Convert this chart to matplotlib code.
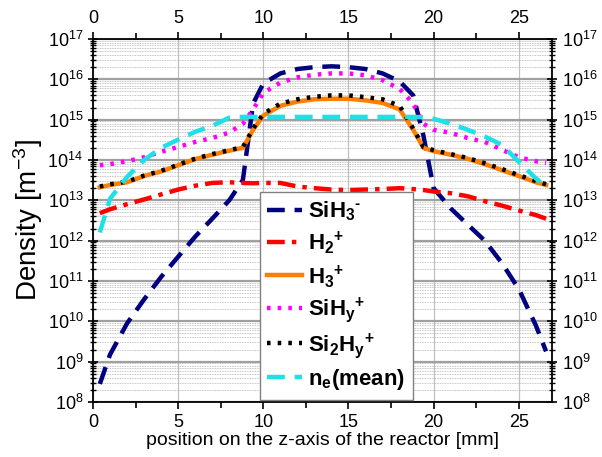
import matplotlib
matplotlib.use("Agg")
import matplotlib.pyplot as plt
from matplotlib.ticker import LogLocator, MultipleLocator, NullFormatter

plt.rcParams["font.family"] = ["Liberation Sans", "DejaVu Sans"]
plt.rcParams["mathtext.fontset"] = "custom"
plt.rcParams["mathtext.rm"] = "Liberation Sans"
plt.rcParams["mathtext.it"] = "Liberation Sans:italic"
plt.rcParams["mathtext.bf"] = "Liberation Sans:bold"

# position along the reactor axis [mm]
z_mm = [0.4, 1, 2, 3, 4, 5, 6, 7, 8, 8.8, 9.4, 10, 11, 12, 13, 14, 15,
        16, 17, 18, 18.8, 19.4, 20, 21, 22, 23, 24, 25, 26, 26.6]

# densities [m^-3]
sih3_minus = [2.8e8, 1.5e9, 8.9e9, 3.5e10, 1.26e11, 4e11, 1.26e12, 3.5e12,
              1e13, 3.2e13, 2.5e15, 7.9e15, 1.4e16, 1.8e16, 2e16, 2.1e16,
              2e16, 1.8e16, 1.4e16, 8.9e15, 4e15, 4e14, 2e13, 6.3e12,
              2.5e12, 1e12, 2.8e11, 6.3e10, 7.9e9, 1.8e9]
h2_plus = [4.8e12, 6e12, 8e12, 1.05e13, 1.4e13, 1.85e13, 2.3e13, 2.7e13,
           2.8e13, 2.7e13, 2.65e13, 2.7e13, 2.7e13, 2.2e13, 2e13, 1.85e13,
           1.8e13, 1.85e13, 1.9e13, 2e13, 1.9e13, 1.8e13, 1.65e13, 1.5e13,
           1.26e13, 9.5e12, 7.4e12, 5.6e12, 4.3e12, 3.5e12]
h3_plus = [2.1e13, 2.4e13, 2.8e13, 4e13, 5.2e13, 7.4e13, 1.05e14, 1.35e14,
           1.7e14, 2e14, 5.6e14, 1.26e15, 2.2e15, 2.8e15, 3.2e15, 3.3e15,
           3.3e15, 3e15, 2.6e15, 1.8e15, 5.6e14, 2e14, 1.65e14, 1.35e14,
           1.07e14, 7.9e13, 5.6e13, 4e13, 2.8e13, 2.4e13]
sihy_plus = [7.4e13, 7.9e13, 9.3e13, 1.17e14, 1.6e14, 2.1e14, 2.8e14,
             3.5e14, 4.8e14, 7.9e14, 1.8e15, 4.6e15, 8.3e15, 1.12e16,
             1.3e16, 1.4e16, 1.4e16, 1.26e16, 9.5e15, 5.8e15, 2.5e15,
             7.9e14, 5.6e14, 4.7e14, 3.5e14, 2.8e14, 1.8e14, 1.17e14,
             9.3e13, 8.5e13]
si2hy_plus = [2.2e13, 2.5e13, 2.9e13, 4.1e13, 5.4e13, 7.6e13, 1.08e14,
              1.4e14, 1.75e14, 2.1e14, 6e14, 1.4e15, 2.5e15, 3.2e15, 3.7e15,
              4e15, 4e15, 3.6e15, 3.2e15, 2.2e15, 6e14, 2.1e14, 1.75e14,
              1.4e14, 1.12e14, 8.3e13, 6e13, 4.2e13, 3e13, 2.5e13]
ne_mean = [1.6e12, 1.1e13, 3.8e13, 1e14, 2e14, 3.2e14, 5e14, 7e14, 1.12e15,
           1.17e15, 1.17e15, 1.17e15, 1.17e15, 1.17e15, 1.17e15, 1.17e15,
           1.17e15, 1.17e15, 1.17e15, 1.17e15, 1.17e15, 1.15e15, 1.05e15,
           7.9e14, 5.6e14, 3.8e14, 2.4e14, 9e13, 3.5e13, 2.2e13]

labels = ["SiH$_\\mathbf{3}$$^\\mathbf{\u2010}$", r"H$_\mathbf{2}$$^\mathbf{+}$",
          r"H$_\mathbf{3}$$^\mathbf{+}$", r"SiH$_\mathbf{y}$$^\mathbf{+}$",
          r"Si$_\mathbf{2}$H$_\mathbf{y}$$^\mathbf{+}$", r"n$_\mathbf{e}$(mean)"]

fig = plt.figure(figsize=(6.02, 4.57), dpi=100)
ax = fig.add_axes([0.1545, 0.1204, 0.7625, 0.7943])

lw = 3.2
ax.plot(z_mm, sih3_minus, color="#000080", lw=lw, dashes=(4, 2.2), label=labels[0])
ax.plot(z_mm, h2_plus, color="#ff0000", lw=lw, dashes=(4, 1.6, 1, 1.6), label=labels[1])
ax.plot(z_mm, h3_plus, color="#ff8000", lw=lw, label=labels[2])
ax.plot(z_mm, sihy_plus, color="#ff00ff", lw=lw, dashes=(0.8, 1.6), label=labels[3])
ax.plot(z_mm, si2hy_plus, color="black", lw=lw, dashes=(0.8, 1.6), label=labels[4])
ax.plot(z_mm, ne_mean, color="#1ee0e6", lw=lw, dashes=(4, 2.2), label=labels[5])

ax.set_yscale("log")
ax.set_xlim(0, 26.95)
ax.set_ylim(1e8, 1e17)

ax.yaxis.set_major_locator(LogLocator(base=10, numticks=20))
ax.yaxis.set_minor_locator(LogLocator(base=10, subs=range(2, 10), numticks=20))
ax.yaxis.set_minor_formatter(NullFormatter())
ax.xaxis.set_major_locator(MultipleLocator(5))
ax.xaxis.set_minor_locator(MultipleLocator(2.5))

# grid
ax.grid(True, which="major", axis="y", color="#a0a0a0", lw=1.6)
ax.grid(True, which="major", axis="x", color="#c0c0c0", lw=0.9)
ax.grid(True, which="minor", axis="y", color="#b0b0b0", lw=0.6, ls=(0, (1, 1)))
ax.set_axisbelow(True)

ax.tick_params(axis="both", labelsize=13, width=1.2, top=True, right=True,
               labeltop=True, labelright=True)
ax.tick_params(axis="x", which="major", direction="out", length=5)
ax.tick_params(axis="x", which="minor", direction="out", length=4, width=1.2, top=True)
ax.tick_params(axis="y", which="major", direction="inout", length=7)
ax.tick_params(axis="y", which="minor", direction="inout", length=5, width=1.0, right=True)
for side in ["left", "right", "top", "bottom"]:
    ax.spines[side].set_linewidth(1.3)

ax.set_xlabel("position on the z-axis of the reactor [mm]", fontsize=14, labelpad=1)
ax.set_ylabel(r"Density [m$^{-3}$]", fontsize=20, labelpad=2)

leg = ax.legend(loc="lower left", bbox_to_anchor=(0.358, 0.0), handlelength=1.55,
                handletextpad=0.3, labelspacing=0.28, borderpad=0.35,
                borderaxespad=0.1, fancybox=False, framealpha=1,
                edgecolor="#808080", prop={"weight": "bold", "size": 16})
leg.get_frame().set_linewidth(1.0)

fig.savefig("out.png", dpi=100)
